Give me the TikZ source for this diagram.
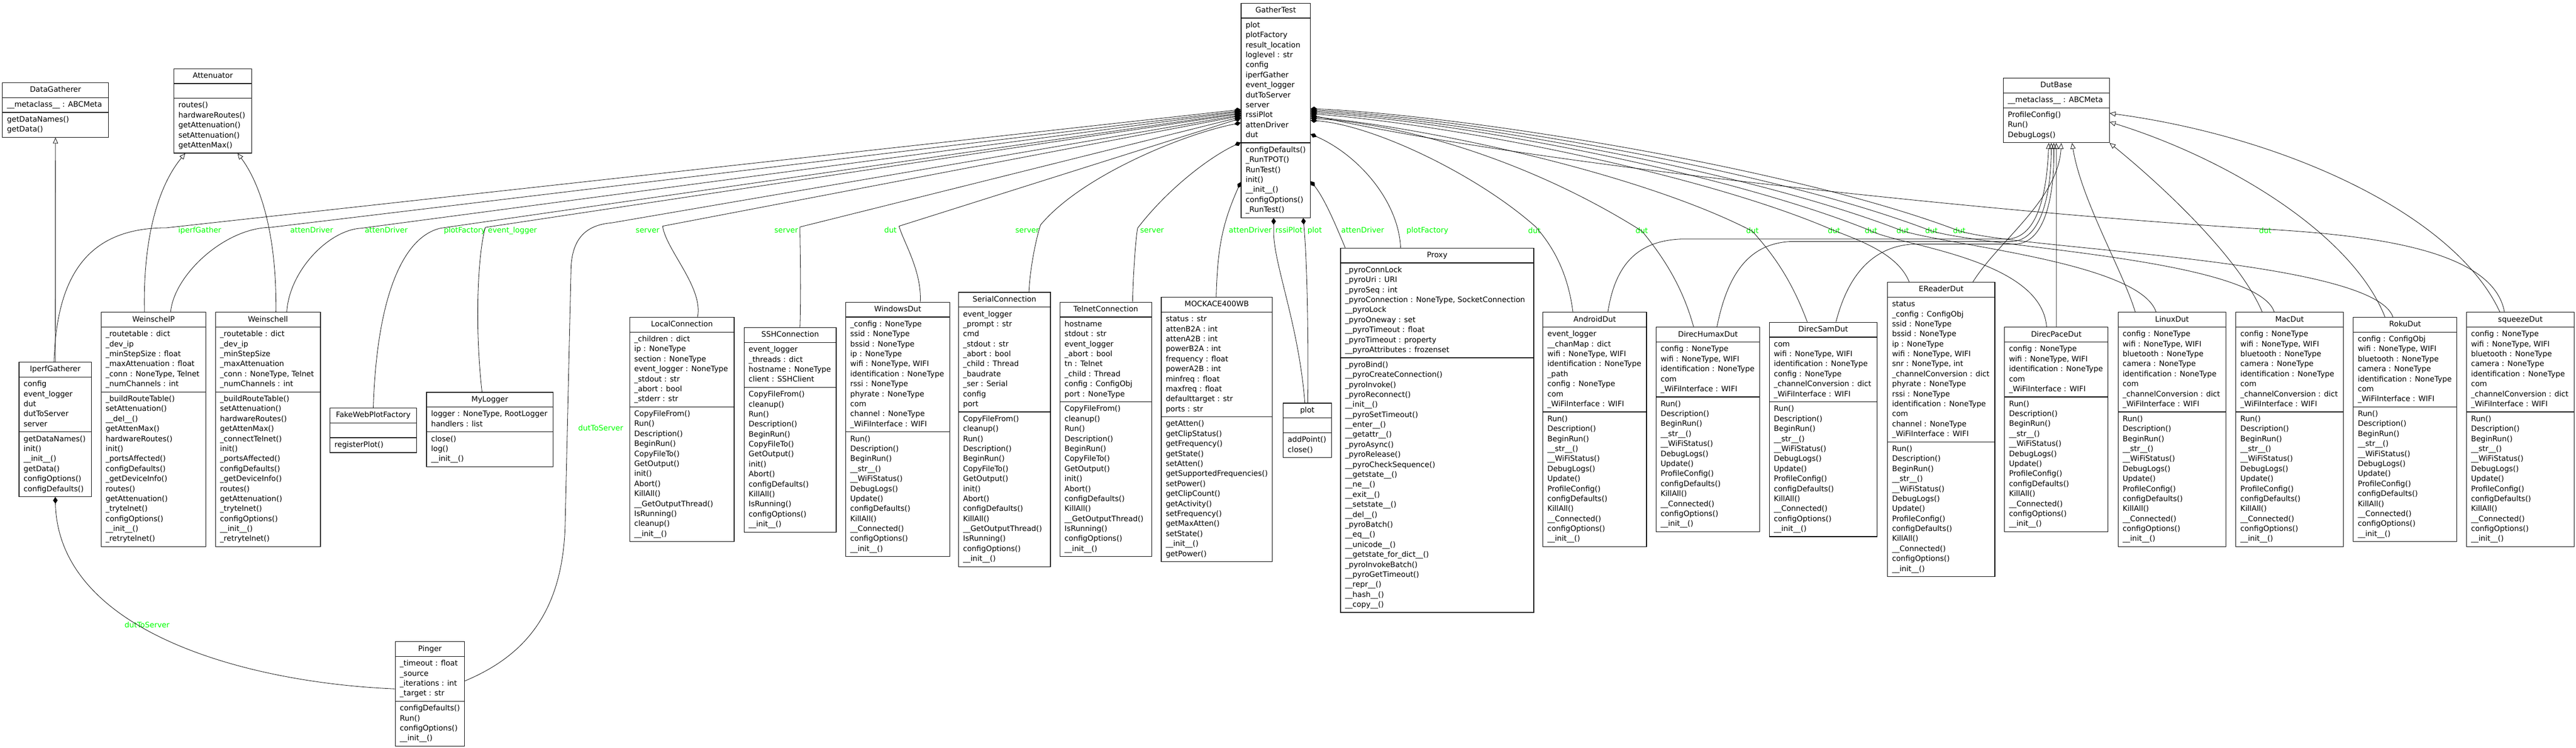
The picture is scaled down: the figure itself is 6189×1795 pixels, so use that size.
\documentclass[tikz,border=0pt]{standalone}
\usepackage{fontspec}
\setmainfont{DejaVu Sans}
\usepackage{tikz}
\usetikzlibrary{arrows.meta, shapes.multipart, calc}
\definecolor{rolegreen}{RGB}{0,255,0}
\newcommand\clsfont{\fontsize{9bp}{12bp}\selectfont}
\newcommand\rows[1]{\begin{tabular}{@{}l@{}}#1\end{tabular}}
\catcode`\_=12
\newcommand\dutmeth{Run()\\Description()\\BeginRun()\\__str__()\\__WiFiStatus()\\DebugLogs()\\Update()\\ProfileConfig()\\configDefaults()\\KillAll()\\__Connected()\\configOptions()\\__init__()}
\tikzset{
  cls/.style={rectangle split, rectangle split parts=3, rectangle split part align={center,left,left},
    draw, line width=0.8bp, inner xsep=5.5bp, inner ysep=2.5bp, anchor=north west, font=\clsfont},
  comp/.style={line width=0.5bp, -{Diamond[length=8bp,width=5.5bp]}},
  inh/.style={line width=0.5bp, -{Triangle[open,length=7bp,width=6bp]}},
  role/.style={text=rolegreen, font=\clsfont, anchor=base west, inner sep=0pt}
}

\begin{document}
\begin{tikzpicture}[x=0.5bp,y=-0.5bp]
\useasboundingbox (0,0) rectangle (6189,1795);
%
% classes
\node[cls, minimum width=83bp] (GatherTest) at (2981,7) {\rows{GatherTest}\nodepart{two}\rows{plot\\plotFactory\\result_location\\loglevel : str\\config\\iperfGather\\event_logger\\dutToServer\\server\\rssiPlot\\attenDriver\\dut}\nodepart{three}\rows{configDefaults()\\_RunTPOT()\\RunTest()\\init()\\__init__()\\configOptions()\\_RunTest()}};
\node[cls, minimum width=127.5bp] (DataGatherer) at (5,198) {\rows{DataGatherer}\nodepart{two}\rows{__metaclass__ : ABCMeta}\nodepart{three}\rows{getDataNames()\\getData()}};
\node[cls, minimum width=93.5bp] (Attenuator) at (417,164) {\rows{Attenuator}\nodepart{two}\strut\nodepart{three}\rows{routes()\\hardwareRoutes()\\getAttenuation()\\setAttenuation()\\getAttenMax()}};
\node[cls, minimum width=127.5bp] (DutBase) at (4812,187) {\rows{DutBase}\nodepart{two}\rows{__metaclass__ : ABCMeta}\nodepart{three}\rows{ProfileConfig()\\Run()\\DebugLogs()}};
\node[cls, minimum width=87bp] (IperfGatherer) at (45,869) {\rows{IperfGatherer}\nodepart{two}\rows{config\\event_logger\\dut\\dutToServer\\server}\nodepart{three}\rows{getDataNames()\\init()\\__init__()\\getData()\\configOptions()\\configDefaults()}};
\node[cls, minimum width=126bp] (WeinschelP) at (242,749) {\rows{WeinschelP}\nodepart{two}\rows{_routetable : dict\\_dev_ip\\_minStepSize : float\\_maxAttenuation : float\\_conn : NoneType, Telnet\\_numChannels : int}\nodepart{three}\rows{_buildRouteTable()\\setAttenuation()\\__del__()\\getAttenMax()\\hardwareRoutes()\\init()\\_portsAffected()\\configDefaults()\\_getDeviceInfo()\\routes()\\getAttenuation()\\_trytelnet()\\configOptions()\\__init__()\\_retrytelnet()}};
\node[cls, minimum width=126bp] (Weinschell) at (517,749) {\rows{Weinschell}\nodepart{two}\rows{_routetable : dict\\_dev_ip\\_minStepSize\\_maxAttenuation\\_conn : NoneType, Telnet\\_numChannels : int}\nodepart{three}\rows{_buildRouteTable()\\setAttenuation()\\hardwareRoutes()\\getAttenMax()\\_connectTelnet()\\init()\\_portsAffected()\\configDefaults()\\_getDeviceInfo()\\routes()\\getAttenuation()\\_trytelnet()\\configOptions()\\__init__()\\_retrytelnet()}};
\node[cls, minimum width=104bp] (FakeWebPlotFactory) at (792,979) {\rows{FakeWebPlotFactory}\nodepart{two}\strut\nodepart{three}\rows{registerPlot()}};
\node[cls, minimum width=152bp] (MyLogger) at (1024,941) {\rows{MyLogger}\nodepart{two}\rows{logger : NoneType, RootLogger\\handlers : list}\nodepart{three}\rows{close()\\log()\\__init__()}};
\node[cls, minimum width=125.5bp] (LocalConnection) at (1512,761) {\rows{LocalConnection}\nodepart{two}\rows{_children : dict\\ip : NoneType\\section : NoneType\\event_logger : NoneType\\_stdout : str\\_abort : bool\\_stderr : str}\nodepart{three}\rows{CopyFileFrom()\\Run()\\Description()\\BeginRun()\\CopyFileTo()\\GetOutput()\\init()\\Abort()\\KillAll()\\__GetOutputThread()\\IsRunning()\\cleanup()\\__init__()}};
\node[cls, minimum width=110.5bp] (SSHConnection) at (1787,786) {\rows{SSHConnection}\nodepart{two}\rows{event_logger\\_threads : dict\\hostname : NoneType\\client : SSHClient}\nodepart{three}\rows{CopyFileFrom()\\cleanup()\\Run()\\Description()\\BeginRun()\\CopyFileTo()\\GetOutput()\\init()\\Abort()\\configDefaults()\\KillAll()\\IsRunning()\\configOptions()\\__init__()}};
\node[cls, minimum width=125bp] (WindowsDut) at (2031,725) {\rows{WindowsDut}\nodepart{two}\rows{_config : NoneType\\ssid : NoneType\\bssid : NoneType\\ip : NoneType\\wifi : NoneType, WIFI\\identification : NoneType\\rssi : NoneType\\phyrate : NoneType\\com\\channel : NoneType\\_WiFiInterface : WIFI}\nodepart{three}\rows{Run()\\Description()\\BeginRun()\\__str__()\\__WiFiStatus()\\DebugLogs()\\Update()\\configDefaults()\\KillAll()\\__Connected()\\configOptions()\\__init__()}};
\node[cls, minimum width=110.5bp] (SerialConnection) at (2302,701) {\rows{SerialConnection}\nodepart{two}\rows{event_logger\\_prompt : str\\cmd\\_stdout : str\\_abort : bool\\_child : Thread\\_baudrate\\_ser : Serial\\config\\port}\nodepart{three}\rows{CopyFileFrom()\\cleanup()\\Run()\\Description()\\BeginRun()\\CopyFileTo()\\GetOutput()\\init()\\Abort()\\configDefaults()\\KillAll()\\__GetOutputThread()\\IsRunning()\\configOptions()\\__init__()}};
\node[cls, minimum width=110bp] (TelnetConnection) at (2546,725) {\rows{TelnetConnection}\nodepart{two}\rows{hostname\\stdout : str\\event_logger\\_abort : bool\\tn : Telnet\\_child : Thread\\config : ConfigObj\\port : NoneType}\nodepart{three}\rows{CopyFileFrom()\\cleanup()\\Run()\\Description()\\BeginRun()\\CopyFileTo()\\GetOutput()\\init()\\Abort()\\configDefaults()\\KillAll()\\__GetOutputThread()\\IsRunning()\\configOptions()\\__init__()}};
\node[cls, minimum width=133bp] (MOCKACE400WB) at (2789,713) {\rows{MOCKACE400WB}\nodepart{two}\rows{status : str\\attenB2A : int\\attenA2B : int\\powerB2A : int\\frequency : float\\powerA2B : int\\minfreq : float\\maxfreq : float\\defaulttarget : str\\ports : str}\nodepart{three}\rows{getAtten()\\getClipStatus()\\getFrequency()\\getState()\\setAtten()\\getSupportedFrequencies()\\setPower()\\getClipCount()\\getActivity()\\setFrequency()\\getMaxAtten()\\setState()\\__init__()\\getPower()}};
\node[cls, minimum width=58bp] (plot) at (3082,967) {\rows{plot}\nodepart{two}\strut\nodepart{three}\rows{addPoint()\\close()}};
\node[cls, minimum width=232bp] (Proxy) at (3220,595) {\rows{Proxy}\nodepart{two}\rows{_pyroConnLock\\_pyroUri : URI\\_pyroSeq : int\\_pyroConnection : NoneType, SocketConnection\\__pyroLock\\_pyroOneway : set\\__pyroTimeout : float\\_pyroTimeout : property\\__pyroAttributes : frozenset}\nodepart{three}\rows{_pyroBind()\\__pyroCreateConnection()\\_pyroInvoke()\\_pyroReconnect()\\__init__()\\__pyroSetTimeout()\\__enter__()\\__getattr__()\\_pyroAsync()\\_pyroRelease()\\__pyroCheckSequence()\\__getstate__()\\__ne__()\\__exit__()\\__setstate__()\\__del__()\\_pyroBatch()\\__eq__()\\__unicode__()\\__getstate_for_dict__()\\_pyroInvokeBatch()\\__pyroGetTimeout()\\__repr__()\\__hash__()\\__copy__()}};
\node[cls, minimum width=124.5bp] (AndroidDut) at (3706,749) {\rows{AndroidDut}\nodepart{two}\rows{event_logger\\__chanMap : dict\\wifi : NoneType, WIFI\\identification : NoneType\\_path\\config : NoneType\\com\\_WiFiInterface : WIFI}\nodepart{three}\rows{\dutmeth}};
\node[cls, minimum width=124.5bp] (DirecHumaxDut) at (3978,785) {\rows{DirecHumaxDut}\nodepart{two}\rows{config : NoneType\\wifi : NoneType, WIFI\\identification : NoneType\\com\\_WiFiInterface : WIFI}\nodepart{three}\rows{\dutmeth}};
\node[cls, minimum width=129.5bp] (DirecSamDut) at (4250,773) {\rows{DirecSamDut}\nodepart{two}\rows{com\\wifi : NoneType, WIFI\\identification : NoneType\\config : NoneType\\_channelConversion : dict\\_WiFiInterface : WIFI}\nodepart{three}\rows{\dutmeth}};
\node[cls, minimum width=129bp] (EReaderDut) at (4534,677) {\rows{EReaderDut}\nodepart{two}\rows{status\\_config : ConfigObj\\ssid : NoneType\\bssid : NoneType\\ip : NoneType\\wifi : NoneType, WIFI\\snr : NoneType, int\\_channelConversion : dict\\phyrate : NoneType\\rssi : NoneType\\identification : NoneType\\com\\channel : NoneType\\_WiFiInterface : WIFI}\nodepart{three}\rows{\dutmeth}};
\node[cls, minimum width=124.5bp] (DirecPaceDut) at (4815,785) {\rows{DirecPaceDut}\nodepart{two}\rows{config : NoneType\\wifi : NoneType, WIFI\\identification : NoneType\\com\\_WiFiInterface : WIFI}\nodepart{three}\rows{\dutmeth}};
\node[cls, minimum width=129.5bp] (LinuxDut) at (5088,749) {\rows{LinuxDut}\nodepart{two}\rows{config : NoneType\\wifi : NoneType, WIFI\\bluetooth : NoneType\\camera : NoneType\\identification : NoneType\\com\\_channelConversion : dict\\_WiFiInterface : WIFI}\nodepart{three}\rows{\dutmeth}};
\node[cls, minimum width=129bp] (MacDut) at (5371,749) {\rows{MacDut}\nodepart{two}\rows{config : NoneType\\wifi : NoneType, WIFI\\bluetooth : NoneType\\camera : NoneType\\identification : NoneType\\com\\_channelConversion : dict\\_WiFiInterface : WIFI}\nodepart{three}\rows{\dutmeth}};
\node[cls, minimum width=124.5bp] (RokuDut) at (5653,761) {\rows{RokuDut}\nodepart{two}\rows{config : ConfigObj\\wifi : NoneType, WIFI\\bluetooth : NoneType\\camera : NoneType\\identification : NoneType\\com\\_WiFiInterface : WIFI}\nodepart{three}\rows{\dutmeth}};
\node[cls, minimum width=129.5bp] (squeezeDut) at (5925,749) {\rows{squeezeDut}\nodepart{two}\rows{config : NoneType\\wifi : NoneType, WIFI\\bluetooth : NoneType\\camera : NoneType\\identification : NoneType\\com\\_channelConversion : dict\\_WiFiInterface : WIFI}\nodepart{three}\rows{\dutmeth}};
\node[cls, minimum width=83bp] (Pinger) at (949,1540) {\rows{Pinger}\nodepart{two}\rows{_timeout : float\\_source\\_iterations : int\\_target : str}\nodepart{three}\rows{configDefaults()\\Run()\\configOptions()\\__init__()}};
%
% role labels
\node[role] (rIperf) at (428,559) {iperfGather};
\node[role] (rWeinP) at (697,559) {attenDriver};
\node[role] (rWein) at (876,559) {attenDriver};
\node[role] (rFake) at (1066,559) {plotFactory};
\node[role] (rLogger) at (1172,559) {event_logger};
\node[role] (rLocal) at (1527,559) {server};
\node[role] (rSSH) at (1860,559) {server};
\node[role] (rWin) at (2124,559) {dut};
\node[role] (rSerial) at (2439,559) {server};
\node[role] (rTelnet) at (2739,559) {server};
\node[role] (rMock) at (2952,559) {attenDriver};
\node[role] (rRssi) at (3064,559) {rssiPlot};
\node[role] (rPlot) at (3141,559) {plot};
\node[role] (rProxyA) at (3222,559) {attenDriver};
\node[role] (rProxyP) at (3379,559) {plotFactory};
\foreach \X [count=\i] in {3671,3929,4195,4391,4480,4556,4625,4692,5427}
{\node[role] (rDut\i) at (\X,560) {dut};}
\node[role] (rPingGT) at (1389,1034) {dutToServer};
\node[role] (rPingIG) at (299,1507) {dutToServer};
%
% composition into GatherTest, left side
\draw[comp] ($(IperfGatherer.north)+(-3,0)$) .. controls (136,650) and (220,547) .. (400,547) -- ($(GatherTest.north west)+(0,256)$);
\draw[comp] ($(WeinschelP.north west)+(168,0)$) .. controls (418,660) and (540,547) .. (650,546) -- ($(GatherTest.north west)+(0,259)$);
\draw[comp] ($(Weinschell.north west)+(172,0)$) .. controls (695,650) and (790,552) .. (868,548) -- ($(GatherTest.north west)+(0,261)$);
\draw[comp] (FakeWebPlotFactory.north) .. controls (905,720) and (965,570) .. (1058,548) -- ($(GatherTest.north west)+(0,264)$);
\draw[comp] ($(MyLogger.north west)+(134,0)$) .. controls (1140,780) and (1148,610) .. (1166,546) -- ($(GatherTest.north west)+(0,266)$);
\draw[comp] ($(Pinger.north east)+(0,95)$) .. controls (1260,1575) and (1355,1470) .. (1358,1250) -- (1372,640) .. controls (1376,570) and (1410,540) .. (1470,535) -- ($(GatherTest.north west)+(0,269)$);
\draw[comp] ($(LocalConnection.north west)+(164,0)$) .. controls (1690,690) and (1600,600) .. (1592,543) -- ($(GatherTest.north west)+(0,271)$);
\draw[comp] ($(SSHConnection.north west)+(135,0)$) .. controls (1925,680) and (1922,600) .. (1922,545) -- ($(GatherTest.north west)+(0,274)$);
\draw[comp] ($(WindowsDut.north west)+(180,0)$) .. controls (2215,650) and (2170,580) .. (2160,543) -- ($(GatherTest.north west)+(0,277)$);
\draw[comp] ($(SerialConnection.north west)+(170,0)$) .. controls (2475,640) and (2490,570) .. (2500,540) .. controls (2600,420) and (2850,320) .. ($(GatherTest.north west)+(0,288)$);
\draw[comp] ($(TelnetConnection.north west)+(175,0)$) .. controls (2723,650) and (2728,580) .. (2733,548) .. controls (2800,460) and (2900,380) .. ($(GatherTest.north west)+(0,335)$);
\draw[comp] ($(MOCKACE400WB.north west)+(133,0)$) .. controls (2925,600) and (2935,540) .. ($(GatherTest.north west)+(0,430)$);
\draw[comp] ($(Pinger.north west)+(0,114)$) .. controls (600,1640) and (140,1520) .. (IperfGatherer.south);
%
% composition into GatherTest, bottom and right side
\draw[comp] ($(plot.north west)+(53,0)$) .. controls (3120,780) and (3062,640) .. (3060,560) -- ($(GatherTest.south west)+(79,0)$);
\draw[comp] ($(plot.north west)+(60,0)$) .. controls (3144,800) and (3140,620) .. ($(GatherTest.south west)+(150,0)$);
\draw[comp] ($(Proxy.north west)+(12,0)$) .. controls (3215,555) and (3185,480) .. ($(GatherTest.north east)+(0,428)$);
\draw[comp] ($(Proxy.north west)+(145,0)$) .. controls (3360,480) and (3260,370) .. ($(GatherTest.north east)+(0,315)$);
\draw[comp] ($(AndroidDut.north west)+(73,0)$) .. controls (3765,640) and (3720,580) .. (3690,545) .. controls (3550,420) and (3300,300) .. ($(GatherTest.north east)+(0,282)$);
\draw[comp] ($(DirecHumaxDut.north west)+(91,0)$) .. controls (4040,680) and (3990,610) .. (3945,555) .. controls (3700,400) and (3400,300) .. ($(GatherTest.north east)+(0,277)$);
\draw[comp] ($(DirecSamDut.north west)+(92,0)$) .. controls (4300,660) and (4250,600) .. (4210,555) .. controls (3950,420) and (3450,310) .. ($(GatherTest.north east)+(0,273)$);
\draw[comp] ($(EReaderDut.north west)+(53,0)$) .. controls (4560,610) and (4470,578) .. (4405,553) .. controls (4100,420) and (3500,300) .. ($(GatherTest.north east)+(0,266)$);
\draw[comp] ($(DirecPaceDut.north west)+(102,0)$) .. controls (4905,620) and (4560,590) .. (4492,553) .. controls (4150,415) and (3500,290) .. ($(GatherTest.north east)+(0,263)$);
\draw[comp] ($(LinuxDut.north west)+(92,0)$) .. controls (5140,630) and (4680,590) .. (4567,553) .. controls (4200,410) and (3500,285) .. ($(GatherTest.north east)+(0,260)$);
\draw[comp] ($(MacDut.north west)+(93,0)$) .. controls (5420,620) and (4760,595) .. (4636,553) .. controls (4250,405) and (3500,280) .. ($(GatherTest.north east)+(0,257)$);
\draw[comp] ($(RokuDut.north west)+(96,0)$) .. controls (5700,620) and (4840,600) .. (4703,553) .. controls (4300,400) and (3500,275) .. ($(GatherTest.north east)+(0,254)$);
\draw[comp] ($(squeezeDut.north west)+(92,0)$) .. controls (5990,600) and (5700,565) .. (5440,550) .. controls (4900,520) and (3700,400) .. ($(GatherTest.north east)+(0,269)$);
%
% inheritance
\draw[inh] (IperfGatherer.north) -- (DataGatherer.south);
\draw[inh] ($(WeinschelP.north west)+(105,0)$) .. controls (343,560) and (385,440) .. ($(Attenuator.south west)+(28,0)$);
\draw[inh] ($(Weinschell.north west)+(146,0)$) .. controls (665,560) and (625,440) .. ($(Attenuator.south west)+(154,0)$);
\draw[inh] ($(AndroidDut.north west)+(157,0)$) .. controls (3880,640) and (3930,578) .. (4040,574) -- (4820,574) .. controls (4900,574) and (4918,450) .. ($(DutBase.south)+(-18,0)$);
\draw[inh] ($(DirecHumaxDut.north west)+(147,0)$) .. controls (4150,660) and (4200,586) .. (4300,580) -- (4830,580) .. controls (4910,580) and (4928,450) .. ($(DutBase.south)+(-12,0)$);
\draw[inh] ($(DirecSamDut.north west)+(161,0)$) .. controls (4440,660) and (4500,590) .. (4600,586) -- (4840,586) .. controls (4920,586) and (4936,450) .. ($(DutBase.south)+(-6,0)$);
\draw[inh] ($(EReaderDut.north west)+(206,0)$) .. controls (4800,580) and (4945,480) .. ($(DutBase.south)+(12,0)$);
\draw[inh] (DirecPaceDut.north) -- (DutBase.south);
\draw[inh] ($(LinuxDut.north west)+(42,0)$) .. controls (5100,650) and (5000,480) .. ($(DutBase.south)+(38,0)$);
\draw[inh] ($(MacDut.north west)+(64,0)$) .. controls (5380,620) and (5200,450) .. (DutBase.south east);
\draw[inh] ($(RokuDut.north west)+(77,0)$) .. controls (5650,560) and (5350,380) .. ($(DutBase.north east)+(0,106)$);
\draw[inh] ($(squeezeDut.north west)+(81,0)$) .. controls (5900,520) and (5500,330) .. ($(DutBase.north east)+(0,85)$);
\end{tikzpicture}
\end{document}
